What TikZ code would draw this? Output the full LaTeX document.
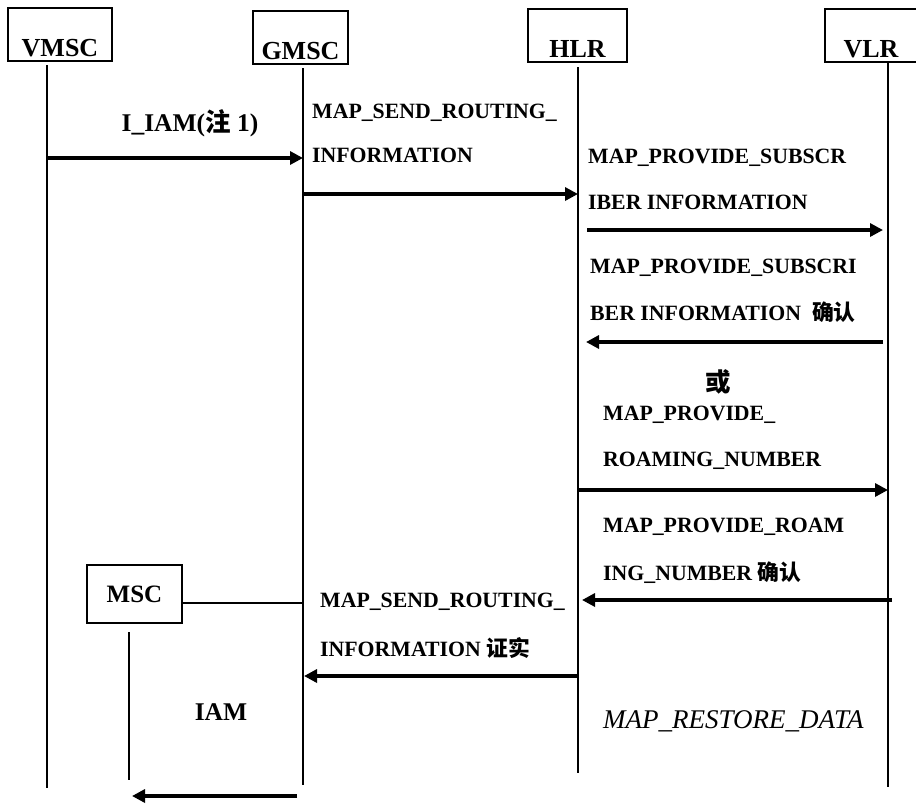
\documentclass[tikz,border=0pt]{standalone}
\usepackage{fontspec}
\setmainfont{Liberation Serif}
\newfontfamily\cjk{Noto Sans CJK SC}
\usetikzlibrary{arrows.meta}
\begin{document}
\begin{tikzpicture}[x=1pt,y=-1pt,
  hdr/.style={draw,line width=1.8pt,inner sep=0pt,anchor=north,
    text height=49pt,text depth=4pt,font=\fontsize{26}{26}\selectfont\bfseries},
  life/.style={line width=1.9pt},
  msg/.style={line width=3.2pt,-{Triangle[length=13pt,width=13pt]}},
  plain/.style={line width=1.8pt},
  lbl/.style={anchor=west,inner sep=0pt,font=\fontsize{21.8}{21.8}\selectfont\bfseries},
  big/.style={anchor=center,inner sep=0pt,font=\fontsize{25.5}{25.5}\selectfont\bfseries},
]
\useasboundingbox (0,0) rectangle (916,804);
\fill[white] (0,0) rectangle (916,804);

% header boxes
\node[hdr,minimum width=104pt] (vmsc) at (60,7) {VMSC};
\node[hdr,minimum width=95pt] (gmsc) at (300.5,10) {GMSC};
\node[hdr,minimum width=99pt] (hlr) at (577.5,8) {HLR};
\node[hdr,minimum width=92pt] (vlr) at (871,8) {VLR};

% lifelines
\coordinate (vmscT) at (47,65);  \coordinate (vmscB) at (47,788);
\coordinate (gmscT) at (303,68); \coordinate (gmscB) at (303,785);
\coordinate (hlrT) at (578,67);  \coordinate (hlrB) at (578,773);
\coordinate (vlrT) at (888,63);  \coordinate (vlrB) at (888,787);
\draw[life] (vmscT) -- (vmscB);
\draw[life] (gmscT) -- (gmscB);
\draw[life] (hlrT) -- (hlrB);
\draw[life] (vlrT) -- (vlrB);

% message 1
\node[big] (t1) at (190,123) {I\_IAM({\cjk 注} 1)};
\coordinate (m1s) at (47,158); \coordinate (m1e) at (303,158);
\draw[msg] (m1s) -- (m1e);

% message 2
\node[lbl] (t2a) at (312,113) {MAP\_SEND\_ROUTING\_};
\node[lbl] (t2b) at (312,155) {INFORMATION};
\coordinate (m2s) at (303,194); \coordinate (m2e) at (578,194);
\draw[msg] (m2s) -- (m2e);

% message 3
\node[lbl] (t3a) at (588,158) {MAP\_PROVIDE\_SUBSCR};
\node[lbl] (t3b) at (588,202) {IBER INFORMATION};
\coordinate (m3s) at (587,230); \coordinate (m3e) at (883,230);
\draw[msg] (m3s) -- (m3e);

% message 4
\node[lbl] (t4a) at (590,268) {MAP\_PROVIDE\_SUBSCRI};
\node[lbl] (t4b) at (590,312) {BER INFORMATION\ \ {\cjk 确认}};
\coordinate (m4s) at (883,342); \coordinate (m4e) at (586,342);
\draw[msg] (m4s) -- (m4e);

\node[big] (or) at (718,382) {\cjk 或};

% message 5
\node[lbl] (t5a) at (603,415) {MAP\_PROVIDE\_};
\node[lbl] (t5b) at (603,461) {ROAMING\_NUMBER};
\coordinate (m5s) at (578,490); \coordinate (m5e) at (888,490);
\draw[msg] (m5s) -- (m5e);

% message 6
\node[lbl] (t6a) at (603,527) {MAP\_PROVIDE\_ROAM};
\node[lbl] (t6b) at (603,573) {ING\_NUMBER {\cjk 确认}};
\coordinate (m6s) at (892,600); \coordinate (m6e) at (582,600);
\draw[msg] (m6s) -- (m6e);

% MSC box
\node[draw,line width=1.5pt,minimum width=95pt,minimum height=58pt,inner sep=0pt,
  font=\fontsize{25}{25}\selectfont\bfseries] (msc) at (134.5,594) {MSC};
\coordinate (mscL) at (303,603);
\draw[plain] (msc.east |- mscL) -- (mscL);
\coordinate (mscT) at (129,632); \coordinate (mscB) at (129,780);
\draw[life] (mscT) -- (mscB);

% message 7
\node[lbl] (t7a) at (320,602) {MAP\_SEND\_ROUTING\_};
\node[lbl] (t7b) at (320,648) {INFORMATION {\cjk 证实}};
\coordinate (m7s) at (578,676); \coordinate (m7e) at (304,676);
\draw[msg] (m7s) -- (m7e);

% IAM
\node[big] (iam) at (221,712) {IAM};
\coordinate (m8s) at (297,796); \coordinate (m8e) at (132,796);
\draw[msg] (m8s) -- (m8e);

\node[anchor=west,inner sep=0pt,font=\fontsize{27}{27}\selectfont\itshape] (rd) at (603,721) {MAP\_RESTORE\_DATA};
\end{tikzpicture}
\end{document}
